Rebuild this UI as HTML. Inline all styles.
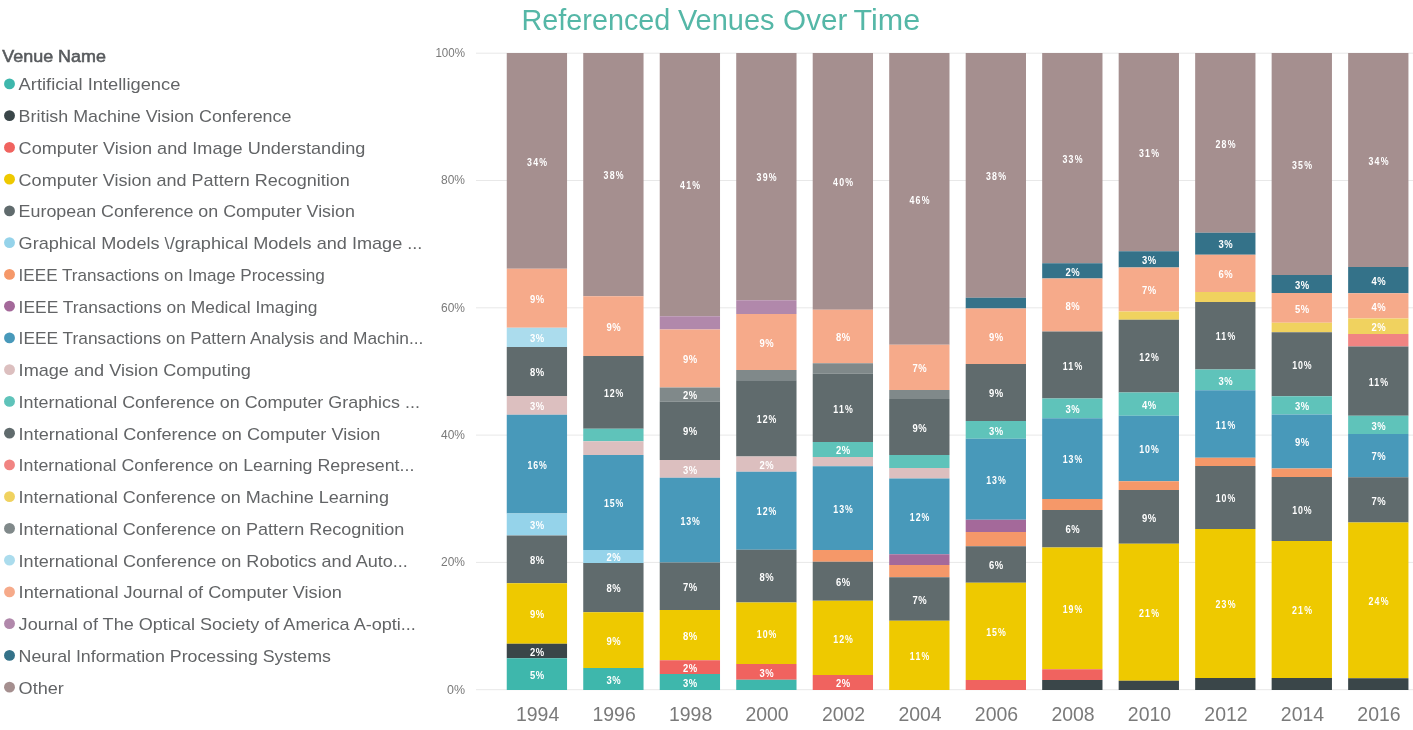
<!DOCTYPE html>
<html lang="en"><head><meta charset="utf-8"><title>Referenced Venues Over Time</title>
<style>
html,body{margin:0;padding:0;background:#fff;}
body{width:1413px;height:730px;overflow:hidden;font-family:"Liberation Sans",sans-serif;}
svg{display:block;}
.t{font-family:"Liberation Sans",sans-serif;}
.title{font-size:30px;fill:#55B7A7;}
.lh{font-size:17px;fill:#575a5d;stroke:#575a5d;stroke-width:0.55px;}
.lg{font-size:16.2px;fill:#626466;}
.ya{font-size:12.4px;fill:#7a7a7a;}
.xa{font-size:19.3px;fill:#7a7a7a;}
.dl{font-size:11px;fill:#fff;font-weight:bold;}
</style></head><body>
<svg width="1413" height="730" viewBox="0 0 1413 730">
<rect x="0" y="0" width="1413" height="730" fill="#ffffff"/>
<text class="t title" x="521.5" y="30.4" textLength="148.8" lengthAdjust="spacingAndGlyphs">Referenced</text><text class="t title" x="677.9" y="30.4" textLength="96.6" lengthAdjust="spacingAndGlyphs">Venues</text><text class="t title" x="783.1" y="30.4" textLength="64.2" lengthAdjust="spacingAndGlyphs">Over</text><text class="t title" x="853.6" y="30.4" textLength="66.6" lengthAdjust="spacingAndGlyphs">Time</text>
<text class="t lh" x="2.3" y="62.4" textLength="103.6" lengthAdjust="spacingAndGlyphs">Venue Name</text>
<circle cx="9.5" cy="83.90" r="5.45" fill="#3EB7AC"/><text class="t lg" x="18.6" y="90.30" textLength="161.8" lengthAdjust="spacingAndGlyphs">Artificial Intelligence</text>
<circle cx="9.5" cy="115.65" r="5.45" fill="#3A4649"/><text class="t lg" x="18.6" y="122.05" textLength="272.8" lengthAdjust="spacingAndGlyphs">British Machine Vision Conference</text>
<circle cx="9.5" cy="147.40" r="5.45" fill="#F0635F"/><text class="t lg" x="18.6" y="153.80" textLength="346.8" lengthAdjust="spacingAndGlyphs">Computer Vision and Image Understanding</text>
<circle cx="9.5" cy="179.15" r="5.45" fill="#EEC900"/><text class="t lg" x="18.6" y="185.55" textLength="331.3" lengthAdjust="spacingAndGlyphs">Computer Vision and Pattern Recognition</text>
<circle cx="9.5" cy="210.90" r="5.45" fill="#606B6D"/><text class="t lg" x="18.6" y="217.30" textLength="336.3" lengthAdjust="spacingAndGlyphs">European Conference on Computer Vision</text>
<circle cx="9.5" cy="242.65" r="5.45" fill="#95D3EA"/><text class="t lg" x="18.6" y="249.05" textLength="403.8" lengthAdjust="spacingAndGlyphs">Graphical Models \/graphical Models and Image ...</text>
<circle cx="9.5" cy="274.40" r="5.45" fill="#F59869"/><text class="t lg" x="18.6" y="280.80" textLength="306.3" lengthAdjust="spacingAndGlyphs">IEEE Transactions on Image Processing</text>
<circle cx="9.5" cy="306.15" r="5.45" fill="#A4699A"/><text class="t lg" x="18.6" y="312.55" textLength="298.8" lengthAdjust="spacingAndGlyphs">IEEE Transactions on Medical Imaging</text>
<circle cx="9.5" cy="337.90" r="5.45" fill="#4899BA"/><text class="t lg" x="18.6" y="344.30" textLength="404.8" lengthAdjust="spacingAndGlyphs">IEEE Transactions on Pattern Analysis and Machin...</text>
<circle cx="9.5" cy="369.65" r="5.45" fill="#DCBFBF"/><text class="t lg" x="18.6" y="376.05" textLength="232.3" lengthAdjust="spacingAndGlyphs">Image and Vision Computing</text>
<circle cx="9.5" cy="401.40" r="5.45" fill="#5FC3BA"/><text class="t lg" x="18.6" y="407.80" textLength="401.3" lengthAdjust="spacingAndGlyphs">International Conference on Computer Graphics ...</text>
<circle cx="9.5" cy="433.15" r="5.45" fill="#606B6D"/><text class="t lg" x="18.6" y="439.55" textLength="361.8" lengthAdjust="spacingAndGlyphs">International Conference on Computer Vision</text>
<circle cx="9.5" cy="464.90" r="5.45" fill="#F18482"/><text class="t lg" x="18.6" y="471.30" textLength="395.8" lengthAdjust="spacingAndGlyphs">International Conference on Learning Represent...</text>
<circle cx="9.5" cy="496.65" r="5.45" fill="#F0D25F"/><text class="t lg" x="18.6" y="503.05" textLength="370.3" lengthAdjust="spacingAndGlyphs">International Conference on Machine Learning</text>
<circle cx="9.5" cy="528.40" r="5.45" fill="#80898A"/><text class="t lg" x="18.6" y="534.80" textLength="385.8" lengthAdjust="spacingAndGlyphs">International Conference on Pattern Recognition</text>
<circle cx="9.5" cy="560.15" r="5.45" fill="#ABDCED"/><text class="t lg" x="18.6" y="566.55" textLength="389.3" lengthAdjust="spacingAndGlyphs">International Conference on Robotics and Auto...</text>
<circle cx="9.5" cy="591.90" r="5.45" fill="#F6AA8A"/><text class="t lg" x="18.6" y="598.30" textLength="323.3" lengthAdjust="spacingAndGlyphs">International Journal of Computer Vision</text>
<circle cx="9.5" cy="623.65" r="5.45" fill="#B188AB"/><text class="t lg" x="18.6" y="630.05" textLength="397.3" lengthAdjust="spacingAndGlyphs">Journal of The Optical Society of America A-opti...</text>
<circle cx="9.5" cy="655.40" r="5.45" fill="#347289"/><text class="t lg" x="18.6" y="661.80" textLength="312.3" lengthAdjust="spacingAndGlyphs">Neural Information Processing Systems</text>
<circle cx="9.5" cy="687.15" r="5.45" fill="#A58F8F"/><text class="t lg" x="18.6" y="693.55" textLength="45.3" lengthAdjust="spacingAndGlyphs">Other</text>
<line x1="476" x2="1413" y1="53.2" y2="53.2" stroke="#e8e8e8" stroke-width="1"/><text class="t ya" x="435.4" y="57.1" textLength="29.6" lengthAdjust="spacingAndGlyphs">100%</text>
<line x1="476" x2="1413" y1="180.5" y2="180.5" stroke="#e8e8e8" stroke-width="1"/><text class="t ya" x="441.0" y="184.4" textLength="24" lengthAdjust="spacingAndGlyphs">80%</text>
<line x1="476" x2="1413" y1="307.8" y2="307.8" stroke="#e8e8e8" stroke-width="1"/><text class="t ya" x="441.0" y="311.7" textLength="24" lengthAdjust="spacingAndGlyphs">60%</text>
<line x1="476" x2="1413" y1="435.1" y2="435.1" stroke="#e8e8e8" stroke-width="1"/><text class="t ya" x="441.0" y="439.0" textLength="24" lengthAdjust="spacingAndGlyphs">40%</text>
<line x1="476" x2="1413" y1="562.4" y2="562.4" stroke="#e8e8e8" stroke-width="1"/><text class="t ya" x="441.0" y="566.3" textLength="24" lengthAdjust="spacingAndGlyphs">20%</text>
<line x1="476" x2="1413" y1="689.7" y2="689.7" stroke="#e8e8e8" stroke-width="1"/><text class="t ya" x="447.0" y="693.6" textLength="18" lengthAdjust="spacingAndGlyphs">0%</text>
<rect x="506.75" y="53.00" width="60.3" height="215.75" fill="#A58F8F"/><rect x="506.75" y="268.75" width="60.3" height="59.00" fill="#F6AA8A"/><rect x="506.75" y="327.75" width="60.3" height="19.25" fill="#ABDCED"/><rect x="506.75" y="347.00" width="60.3" height="49.00" fill="#606B6D"/><rect x="506.75" y="396.00" width="60.3" height="18.75" fill="#DCBFBF"/><rect x="506.75" y="414.75" width="60.3" height="98.75" fill="#4899BA"/><rect x="506.75" y="513.50" width="60.3" height="22.00" fill="#95D3EA"/><rect x="506.75" y="535.50" width="60.3" height="47.75" fill="#606B6D"/><rect x="506.75" y="583.25" width="60.3" height="60.50" fill="#EEC900"/><rect x="506.75" y="643.75" width="60.3" height="14.50" fill="#3A4649"/><rect x="506.75" y="658.25" width="60.3" height="31.75" fill="#3EB7AC"/>
<text class="t dl" transform="translate(527.10,165.57) scale(0.8,1)" textLength="25.00" lengthAdjust="spacing">34%</text><text class="t dl" transform="translate(530.00,302.95) scale(0.86,1)" textLength="16.51" lengthAdjust="spacing">9%</text><text class="t dl" transform="translate(530.00,342.07) scale(0.86,1)" textLength="16.51" lengthAdjust="spacing">3%</text><text class="t dl" transform="translate(530.00,376.20) scale(0.86,1)" textLength="16.51" lengthAdjust="spacing">8%</text><text class="t dl" transform="translate(530.00,410.07) scale(0.86,1)" textLength="16.51" lengthAdjust="spacing">3%</text><text class="t dl" transform="translate(527.40,468.82) scale(0.8,1)" textLength="24.25" lengthAdjust="spacing">16%</text><text class="t dl" transform="translate(530.00,529.20) scale(0.86,1)" textLength="16.51" lengthAdjust="spacing">3%</text><text class="t dl" transform="translate(530.00,564.08) scale(0.86,1)" textLength="16.51" lengthAdjust="spacing">8%</text><text class="t dl" transform="translate(530.00,618.20) scale(0.86,1)" textLength="16.51" lengthAdjust="spacing">9%</text><text class="t dl" transform="translate(530.00,655.70) scale(0.86,1)" textLength="16.51" lengthAdjust="spacing">2%</text><text class="t dl" transform="translate(530.00,678.83) scale(0.86,1)" textLength="16.51" lengthAdjust="spacing">5%</text>
<text class="t xa" x="515.95" y="720.8" textLength="43.3" lengthAdjust="spacingAndGlyphs">1994</text>
<rect x="583.24" y="53.00" width="60.3" height="243.25" fill="#A58F8F"/><rect x="583.24" y="296.25" width="60.3" height="59.75" fill="#F6AA8A"/><rect x="583.24" y="356.00" width="60.3" height="72.75" fill="#606B6D"/><rect x="583.24" y="428.75" width="60.3" height="12.50" fill="#5FC3BA"/><rect x="583.24" y="441.25" width="60.3" height="13.75" fill="#DCBFBF"/><rect x="583.24" y="455.00" width="60.3" height="95.00" fill="#4899BA"/><rect x="583.24" y="550.00" width="60.3" height="13.00" fill="#95D3EA"/><rect x="583.24" y="563.00" width="60.3" height="49.25" fill="#606B6D"/><rect x="583.24" y="612.25" width="60.3" height="55.75" fill="#EEC900"/><rect x="583.24" y="668.00" width="60.3" height="22.00" fill="#3EB7AC"/>
<text class="t dl" transform="translate(603.59,179.32) scale(0.8,1)" textLength="25.00" lengthAdjust="spacing">38%</text><text class="t dl" transform="translate(606.49,330.82) scale(0.86,1)" textLength="16.51" lengthAdjust="spacing">9%</text><text class="t dl" transform="translate(603.89,397.07) scale(0.8,1)" textLength="24.25" lengthAdjust="spacing">12%</text><text class="t dl" transform="translate(603.89,507.20) scale(0.8,1)" textLength="24.25" lengthAdjust="spacing">15%</text><text class="t dl" transform="translate(606.49,561.20) scale(0.86,1)" textLength="16.51" lengthAdjust="spacing">2%</text><text class="t dl" transform="translate(606.49,592.33) scale(0.86,1)" textLength="16.51" lengthAdjust="spacing">8%</text><text class="t dl" transform="translate(606.49,644.83) scale(0.86,1)" textLength="16.51" lengthAdjust="spacing">9%</text><text class="t dl" transform="translate(606.49,683.70) scale(0.86,1)" textLength="16.51" lengthAdjust="spacing">3%</text>
<text class="t xa" x="592.44" y="720.8" textLength="43.3" lengthAdjust="spacingAndGlyphs">1996</text>
<rect x="659.73" y="53.00" width="60.3" height="263.25" fill="#A58F8F"/><rect x="659.73" y="316.25" width="60.3" height="13.25" fill="#B188AB"/><rect x="659.73" y="329.50" width="60.3" height="58.00" fill="#F6AA8A"/><rect x="659.73" y="387.50" width="60.3" height="14.00" fill="#80898A"/><rect x="659.73" y="401.50" width="60.3" height="58.50" fill="#606B6D"/><rect x="659.73" y="460.00" width="60.3" height="17.75" fill="#DCBFBF"/><rect x="659.73" y="477.75" width="60.3" height="84.75" fill="#4899BA"/><rect x="659.73" y="562.50" width="60.3" height="47.50" fill="#606B6D"/><rect x="659.73" y="610.00" width="60.3" height="50.25" fill="#EEC900"/><rect x="659.73" y="660.25" width="60.3" height="13.75" fill="#F0635F"/><rect x="659.73" y="674.00" width="60.3" height="16.00" fill="#3EB7AC"/>
<text class="t dl" transform="translate(680.08,189.32) scale(0.8,1)" textLength="25.00" lengthAdjust="spacing">41%</text><text class="t dl" transform="translate(682.98,363.20) scale(0.86,1)" textLength="16.51" lengthAdjust="spacing">9%</text><text class="t dl" transform="translate(682.98,399.20) scale(0.86,1)" textLength="16.51" lengthAdjust="spacing">2%</text><text class="t dl" transform="translate(682.98,435.45) scale(0.86,1)" textLength="16.51" lengthAdjust="spacing">9%</text><text class="t dl" transform="translate(682.98,473.57) scale(0.86,1)" textLength="16.51" lengthAdjust="spacing">3%</text><text class="t dl" transform="translate(680.38,524.83) scale(0.8,1)" textLength="24.25" lengthAdjust="spacing">13%</text><text class="t dl" transform="translate(682.98,590.95) scale(0.86,1)" textLength="16.51" lengthAdjust="spacing">7%</text><text class="t dl" transform="translate(682.98,639.83) scale(0.86,1)" textLength="16.51" lengthAdjust="spacing">8%</text><text class="t dl" transform="translate(682.98,671.83) scale(0.86,1)" textLength="16.51" lengthAdjust="spacing">2%</text><text class="t dl" transform="translate(682.98,686.70) scale(0.86,1)" textLength="16.51" lengthAdjust="spacing">3%</text>
<text class="t xa" x="668.93" y="720.8" textLength="43.3" lengthAdjust="spacingAndGlyphs">1998</text>
<rect x="736.22" y="53.00" width="60.3" height="247.25" fill="#A58F8F"/><rect x="736.22" y="300.25" width="60.3" height="13.75" fill="#B188AB"/><rect x="736.22" y="314.00" width="60.3" height="56.00" fill="#F6AA8A"/><rect x="736.22" y="370.00" width="60.3" height="10.25" fill="#80898A"/><rect x="736.22" y="380.25" width="60.3" height="76.25" fill="#606B6D"/><rect x="736.22" y="456.50" width="60.3" height="15.25" fill="#DCBFBF"/><rect x="736.22" y="471.75" width="60.3" height="78.00" fill="#4899BA"/><rect x="736.22" y="549.75" width="60.3" height="52.75" fill="#606B6D"/><rect x="736.22" y="602.50" width="60.3" height="61.50" fill="#EEC900"/><rect x="736.22" y="664.00" width="60.3" height="15.75" fill="#F0635F"/><rect x="736.22" y="679.75" width="60.3" height="10.25" fill="#3EB7AC"/>
<text class="t dl" transform="translate(756.57,181.32) scale(0.8,1)" textLength="25.00" lengthAdjust="spacing">39%</text><text class="t dl" transform="translate(759.47,346.70) scale(0.86,1)" textLength="16.51" lengthAdjust="spacing">9%</text><text class="t dl" transform="translate(756.87,423.07) scale(0.8,1)" textLength="24.25" lengthAdjust="spacing">12%</text><text class="t dl" transform="translate(759.47,468.82) scale(0.86,1)" textLength="16.51" lengthAdjust="spacing">2%</text><text class="t dl" transform="translate(756.87,515.45) scale(0.8,1)" textLength="24.25" lengthAdjust="spacing">12%</text><text class="t dl" transform="translate(759.47,580.83) scale(0.86,1)" textLength="16.51" lengthAdjust="spacing">8%</text><text class="t dl" transform="translate(756.87,637.95) scale(0.8,1)" textLength="24.25" lengthAdjust="spacing">10%</text><text class="t dl" transform="translate(759.47,676.58) scale(0.86,1)" textLength="16.51" lengthAdjust="spacing">3%</text>
<text class="t xa" x="745.42" y="720.8" textLength="43.3" lengthAdjust="spacingAndGlyphs">2000</text>
<rect x="812.71" y="53.00" width="60.3" height="256.75" fill="#A58F8F"/><rect x="812.71" y="309.75" width="60.3" height="53.50" fill="#F6AA8A"/><rect x="812.71" y="363.25" width="60.3" height="10.50" fill="#80898A"/><rect x="812.71" y="373.75" width="60.3" height="68.25" fill="#606B6D"/><rect x="812.71" y="442.00" width="60.3" height="15.00" fill="#5FC3BA"/><rect x="812.71" y="457.00" width="60.3" height="9.25" fill="#DCBFBF"/><rect x="812.71" y="466.25" width="60.3" height="83.75" fill="#4899BA"/><rect x="812.71" y="550.00" width="60.3" height="11.75" fill="#F59869"/><rect x="812.71" y="561.75" width="60.3" height="39.00" fill="#606B6D"/><rect x="812.71" y="600.75" width="60.3" height="74.25" fill="#EEC900"/><rect x="812.71" y="675.00" width="60.3" height="15.00" fill="#F0635F"/>
<text class="t dl" transform="translate(833.06,186.07) scale(0.8,1)" textLength="25.00" lengthAdjust="spacing">40%</text><text class="t dl" transform="translate(835.96,341.20) scale(0.86,1)" textLength="16.51" lengthAdjust="spacing">8%</text><text class="t dl" transform="translate(833.36,412.57) scale(0.8,1)" textLength="24.25" lengthAdjust="spacing">11%</text><text class="t dl" transform="translate(835.96,454.20) scale(0.86,1)" textLength="16.51" lengthAdjust="spacing">2%</text><text class="t dl" transform="translate(833.36,512.83) scale(0.8,1)" textLength="24.25" lengthAdjust="spacing">13%</text><text class="t dl" transform="translate(835.96,585.95) scale(0.86,1)" textLength="16.51" lengthAdjust="spacing">6%</text><text class="t dl" transform="translate(833.36,642.58) scale(0.8,1)" textLength="24.25" lengthAdjust="spacing">12%</text><text class="t dl" transform="translate(835.96,687.20) scale(0.86,1)" textLength="16.51" lengthAdjust="spacing">2%</text>
<text class="t xa" x="821.91" y="720.8" textLength="43.3" lengthAdjust="spacingAndGlyphs">2002</text>
<rect x="889.20" y="53.00" width="60.3" height="291.75" fill="#A58F8F"/><rect x="889.20" y="344.75" width="60.3" height="45.25" fill="#F6AA8A"/><rect x="889.20" y="390.00" width="60.3" height="9.00" fill="#80898A"/><rect x="889.20" y="399.00" width="60.3" height="56.00" fill="#606B6D"/><rect x="889.20" y="455.00" width="60.3" height="13.00" fill="#5FC3BA"/><rect x="889.20" y="468.00" width="60.3" height="10.50" fill="#DCBFBF"/><rect x="889.20" y="478.50" width="60.3" height="75.75" fill="#4899BA"/><rect x="889.20" y="554.25" width="60.3" height="10.75" fill="#A4699A"/><rect x="889.20" y="565.00" width="60.3" height="12.25" fill="#F59869"/><rect x="889.20" y="577.25" width="60.3" height="43.50" fill="#606B6D"/><rect x="889.20" y="620.75" width="60.3" height="69.25" fill="#EEC900"/>
<text class="t dl" transform="translate(909.55,203.57) scale(0.8,1)" textLength="25.00" lengthAdjust="spacing">46%</text><text class="t dl" transform="translate(912.45,372.07) scale(0.86,1)" textLength="16.51" lengthAdjust="spacing">7%</text><text class="t dl" transform="translate(912.45,431.70) scale(0.86,1)" textLength="16.51" lengthAdjust="spacing">9%</text><text class="t dl" transform="translate(909.85,521.08) scale(0.8,1)" textLength="24.25" lengthAdjust="spacing">12%</text><text class="t dl" transform="translate(912.45,603.70) scale(0.86,1)" textLength="16.51" lengthAdjust="spacing">7%</text><text class="t dl" transform="translate(909.85,660.08) scale(0.8,1)" textLength="24.25" lengthAdjust="spacing">11%</text>
<text class="t xa" x="898.40" y="720.8" textLength="43.3" lengthAdjust="spacingAndGlyphs">2004</text>
<rect x="965.69" y="53.00" width="60.3" height="244.75" fill="#A58F8F"/><rect x="965.69" y="297.75" width="60.3" height="10.75" fill="#347289"/><rect x="965.69" y="308.50" width="60.3" height="55.50" fill="#F6AA8A"/><rect x="965.69" y="364.00" width="60.3" height="57.00" fill="#606B6D"/><rect x="965.69" y="421.00" width="60.3" height="17.75" fill="#5FC3BA"/><rect x="965.69" y="438.75" width="60.3" height="81.00" fill="#4899BA"/><rect x="965.69" y="519.75" width="60.3" height="12.25" fill="#A4699A"/><rect x="965.69" y="532.00" width="60.3" height="14.25" fill="#F59869"/><rect x="965.69" y="546.25" width="60.3" height="36.50" fill="#606B6D"/><rect x="965.69" y="582.75" width="60.3" height="97.25" fill="#EEC900"/><rect x="965.69" y="680.00" width="60.3" height="10.00" fill="#F0635F"/>
<text class="t dl" transform="translate(986.04,180.07) scale(0.8,1)" textLength="25.00" lengthAdjust="spacing">38%</text><text class="t dl" transform="translate(988.94,340.95) scale(0.86,1)" textLength="16.51" lengthAdjust="spacing">9%</text><text class="t dl" transform="translate(988.94,397.20) scale(0.86,1)" textLength="16.51" lengthAdjust="spacing">9%</text><text class="t dl" transform="translate(988.94,434.57) scale(0.86,1)" textLength="16.51" lengthAdjust="spacing">3%</text><text class="t dl" transform="translate(986.34,483.95) scale(0.8,1)" textLength="24.25" lengthAdjust="spacing">13%</text><text class="t dl" transform="translate(988.94,569.20) scale(0.86,1)" textLength="16.51" lengthAdjust="spacing">6%</text><text class="t dl" transform="translate(986.34,636.08) scale(0.8,1)" textLength="24.25" lengthAdjust="spacing">15%</text>
<text class="t xa" x="974.89" y="720.8" textLength="43.3" lengthAdjust="spacingAndGlyphs">2006</text>
<rect x="1042.18" y="53.00" width="60.3" height="210.25" fill="#A58F8F"/><rect x="1042.18" y="263.25" width="60.3" height="15.25" fill="#347289"/><rect x="1042.18" y="278.50" width="60.3" height="53.00" fill="#F6AA8A"/><rect x="1042.18" y="331.50" width="60.3" height="67.00" fill="#606B6D"/><rect x="1042.18" y="398.50" width="60.3" height="19.75" fill="#5FC3BA"/><rect x="1042.18" y="418.25" width="60.3" height="80.75" fill="#4899BA"/><rect x="1042.18" y="499.00" width="60.3" height="11.00" fill="#F59869"/><rect x="1042.18" y="510.00" width="60.3" height="37.50" fill="#606B6D"/><rect x="1042.18" y="547.50" width="60.3" height="121.75" fill="#EEC900"/><rect x="1042.18" y="669.25" width="60.3" height="10.75" fill="#F0635F"/><rect x="1042.18" y="680.00" width="60.3" height="10.00" fill="#3A4649"/>
<text class="t dl" transform="translate(1062.53,162.82) scale(0.8,1)" textLength="25.00" lengthAdjust="spacing">33%</text><text class="t dl" transform="translate(1065.43,275.57) scale(0.86,1)" textLength="16.51" lengthAdjust="spacing">2%</text><text class="t dl" transform="translate(1065.43,309.70) scale(0.86,1)" textLength="16.51" lengthAdjust="spacing">8%</text><text class="t dl" transform="translate(1062.83,369.70) scale(0.8,1)" textLength="24.25" lengthAdjust="spacing">11%</text><text class="t dl" transform="translate(1065.43,413.07) scale(0.86,1)" textLength="16.51" lengthAdjust="spacing">3%</text><text class="t dl" transform="translate(1062.83,463.32) scale(0.8,1)" textLength="24.25" lengthAdjust="spacing">13%</text><text class="t dl" transform="translate(1065.43,533.45) scale(0.86,1)" textLength="16.51" lengthAdjust="spacing">6%</text><text class="t dl" transform="translate(1062.83,613.08) scale(0.8,1)" textLength="24.25" lengthAdjust="spacing">19%</text>
<text class="t xa" x="1051.38" y="720.8" textLength="43.3" lengthAdjust="spacingAndGlyphs">2008</text>
<rect x="1118.67" y="53.00" width="60.3" height="198.25" fill="#A58F8F"/><rect x="1118.67" y="251.25" width="60.3" height="16.25" fill="#347289"/><rect x="1118.67" y="267.50" width="60.3" height="44.00" fill="#F6AA8A"/><rect x="1118.67" y="311.50" width="60.3" height="8.25" fill="#F0D25F"/><rect x="1118.67" y="319.75" width="60.3" height="72.75" fill="#606B6D"/><rect x="1118.67" y="392.50" width="60.3" height="23.25" fill="#5FC3BA"/><rect x="1118.67" y="415.75" width="60.3" height="65.50" fill="#4899BA"/><rect x="1118.67" y="481.25" width="60.3" height="8.75" fill="#F59869"/><rect x="1118.67" y="490.00" width="60.3" height="53.75" fill="#606B6D"/><rect x="1118.67" y="543.75" width="60.3" height="137.00" fill="#EEC900"/><rect x="1118.67" y="680.75" width="60.3" height="9.25" fill="#3A4649"/>
<text class="t dl" transform="translate(1139.02,156.82) scale(0.8,1)" textLength="25.00" lengthAdjust="spacing">31%</text><text class="t dl" transform="translate(1141.92,264.07) scale(0.86,1)" textLength="16.51" lengthAdjust="spacing">3%</text><text class="t dl" transform="translate(1141.92,294.20) scale(0.86,1)" textLength="16.51" lengthAdjust="spacing">7%</text><text class="t dl" transform="translate(1139.32,360.82) scale(0.8,1)" textLength="24.25" lengthAdjust="spacing">12%</text><text class="t dl" transform="translate(1141.92,408.82) scale(0.86,1)" textLength="16.51" lengthAdjust="spacing">4%</text><text class="t dl" transform="translate(1139.32,453.20) scale(0.8,1)" textLength="24.25" lengthAdjust="spacing">10%</text><text class="t dl" transform="translate(1141.92,521.58) scale(0.86,1)" textLength="16.51" lengthAdjust="spacing">9%</text><text class="t dl" transform="translate(1139.02,616.95) scale(0.8,1)" textLength="25.00" lengthAdjust="spacing">21%</text>
<text class="t xa" x="1127.87" y="720.8" textLength="43.3" lengthAdjust="spacingAndGlyphs">2010</text>
<rect x="1195.16" y="53.00" width="60.3" height="179.75" fill="#A58F8F"/><rect x="1195.16" y="232.75" width="60.3" height="22.00" fill="#347289"/><rect x="1195.16" y="254.75" width="60.3" height="37.25" fill="#F6AA8A"/><rect x="1195.16" y="292.00" width="60.3" height="10.00" fill="#F0D25F"/><rect x="1195.16" y="302.00" width="60.3" height="67.50" fill="#606B6D"/><rect x="1195.16" y="369.50" width="60.3" height="20.75" fill="#5FC3BA"/><rect x="1195.16" y="390.25" width="60.3" height="67.50" fill="#4899BA"/><rect x="1195.16" y="457.75" width="60.3" height="8.25" fill="#F59869"/><rect x="1195.16" y="466.00" width="60.3" height="63.00" fill="#606B6D"/><rect x="1195.16" y="529.00" width="60.3" height="149.00" fill="#EEC900"/><rect x="1195.16" y="678.00" width="60.3" height="12.00" fill="#3A4649"/>
<text class="t dl" transform="translate(1215.51,147.57) scale(0.8,1)" textLength="25.00" lengthAdjust="spacing">28%</text><text class="t dl" transform="translate(1218.41,248.45) scale(0.86,1)" textLength="16.51" lengthAdjust="spacing">3%</text><text class="t dl" transform="translate(1218.41,278.07) scale(0.86,1)" textLength="16.51" lengthAdjust="spacing">6%</text><text class="t dl" transform="translate(1215.81,340.45) scale(0.8,1)" textLength="24.25" lengthAdjust="spacing">11%</text><text class="t dl" transform="translate(1218.41,384.57) scale(0.86,1)" textLength="16.51" lengthAdjust="spacing">3%</text><text class="t dl" transform="translate(1215.81,428.70) scale(0.8,1)" textLength="24.25" lengthAdjust="spacing">11%</text><text class="t dl" transform="translate(1215.81,502.20) scale(0.8,1)" textLength="24.25" lengthAdjust="spacing">10%</text><text class="t dl" transform="translate(1215.51,608.20) scale(0.8,1)" textLength="25.00" lengthAdjust="spacing">23%</text>
<text class="t xa" x="1204.36" y="720.8" textLength="43.3" lengthAdjust="spacingAndGlyphs">2012</text>
<rect x="1271.65" y="53.00" width="60.3" height="222.00" fill="#A58F8F"/><rect x="1271.65" y="275.00" width="60.3" height="18.00" fill="#347289"/><rect x="1271.65" y="293.00" width="60.3" height="29.75" fill="#F6AA8A"/><rect x="1271.65" y="322.75" width="60.3" height="9.50" fill="#F0D25F"/><rect x="1271.65" y="332.25" width="60.3" height="64.00" fill="#606B6D"/><rect x="1271.65" y="396.25" width="60.3" height="18.25" fill="#5FC3BA"/><rect x="1271.65" y="414.50" width="60.3" height="54.00" fill="#4899BA"/><rect x="1271.65" y="468.50" width="60.3" height="8.50" fill="#F59869"/><rect x="1271.65" y="477.00" width="60.3" height="64.00" fill="#606B6D"/><rect x="1271.65" y="541.00" width="60.3" height="137.00" fill="#EEC900"/><rect x="1271.65" y="678.00" width="60.3" height="12.00" fill="#3A4649"/>
<text class="t dl" transform="translate(1292.00,168.70) scale(0.8,1)" textLength="25.00" lengthAdjust="spacing">35%</text><text class="t dl" transform="translate(1294.90,288.70) scale(0.86,1)" textLength="16.51" lengthAdjust="spacing">3%</text><text class="t dl" transform="translate(1294.90,312.57) scale(0.86,1)" textLength="16.51" lengthAdjust="spacing">5%</text><text class="t dl" transform="translate(1292.30,368.95) scale(0.8,1)" textLength="24.25" lengthAdjust="spacing">10%</text><text class="t dl" transform="translate(1294.90,410.07) scale(0.86,1)" textLength="16.51" lengthAdjust="spacing">3%</text><text class="t dl" transform="translate(1294.90,446.20) scale(0.86,1)" textLength="16.51" lengthAdjust="spacing">9%</text><text class="t dl" transform="translate(1292.30,513.70) scale(0.8,1)" textLength="24.25" lengthAdjust="spacing">10%</text><text class="t dl" transform="translate(1292.00,614.20) scale(0.8,1)" textLength="25.00" lengthAdjust="spacing">21%</text>
<text class="t xa" x="1280.85" y="720.8" textLength="43.3" lengthAdjust="spacingAndGlyphs">2014</text>
<rect x="1348.14" y="53.00" width="60.3" height="214.00" fill="#A58F8F"/><rect x="1348.14" y="267.00" width="60.3" height="26.25" fill="#347289"/><rect x="1348.14" y="293.25" width="60.3" height="25.25" fill="#F6AA8A"/><rect x="1348.14" y="318.50" width="60.3" height="15.50" fill="#F0D25F"/><rect x="1348.14" y="334.00" width="60.3" height="12.50" fill="#F18482"/><rect x="1348.14" y="346.50" width="60.3" height="69.25" fill="#606B6D"/><rect x="1348.14" y="415.75" width="60.3" height="18.25" fill="#5FC3BA"/><rect x="1348.14" y="434.00" width="60.3" height="43.25" fill="#4899BA"/><rect x="1348.14" y="477.25" width="60.3" height="45.25" fill="#606B6D"/><rect x="1348.14" y="522.50" width="60.3" height="155.75" fill="#EEC900"/><rect x="1348.14" y="678.25" width="60.3" height="11.75" fill="#3A4649"/>
<text class="t dl" transform="translate(1368.49,164.70) scale(0.8,1)" textLength="25.00" lengthAdjust="spacing">34%</text><text class="t dl" transform="translate(1371.39,284.82) scale(0.86,1)" textLength="16.51" lengthAdjust="spacing">4%</text><text class="t dl" transform="translate(1371.39,310.57) scale(0.86,1)" textLength="16.51" lengthAdjust="spacing">4%</text><text class="t dl" transform="translate(1371.39,330.95) scale(0.86,1)" textLength="16.51" lengthAdjust="spacing">2%</text><text class="t dl" transform="translate(1368.79,385.82) scale(0.8,1)" textLength="24.25" lengthAdjust="spacing">11%</text><text class="t dl" transform="translate(1371.39,429.57) scale(0.86,1)" textLength="16.51" lengthAdjust="spacing">3%</text><text class="t dl" transform="translate(1371.39,460.32) scale(0.86,1)" textLength="16.51" lengthAdjust="spacing">7%</text><text class="t dl" transform="translate(1371.39,504.57) scale(0.86,1)" textLength="16.51" lengthAdjust="spacing">7%</text><text class="t dl" transform="translate(1368.49,605.08) scale(0.8,1)" textLength="25.00" lengthAdjust="spacing">24%</text>
<text class="t xa" x="1357.34" y="720.8" textLength="43.3" lengthAdjust="spacingAndGlyphs">2016</text>
</svg>
</body></html>
